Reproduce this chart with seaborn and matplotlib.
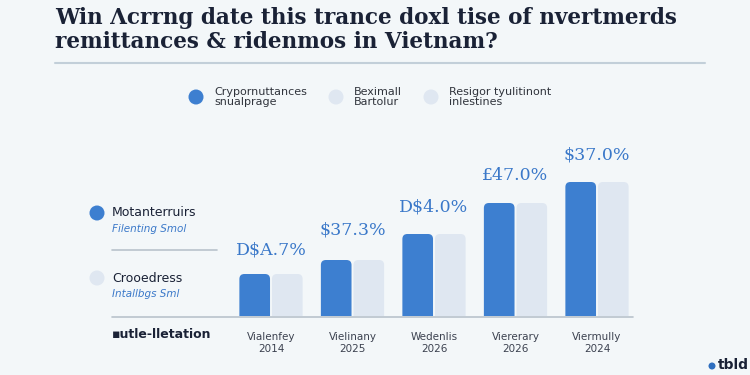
import matplotlib
matplotlib.use("Agg")
import matplotlib.pyplot as plt
import seaborn as sns
import pandas as pd
from matplotlib.patches import FancyBboxPatch, Circle

# ---- data ----
categories = ["Vialenfey\n2014", "Vielinany\n2025", "Wedenlis\n2026", "Viererary\n2026", "Viermully\n2024"]
series_names = ["Crypornuttances snualprage", "Beximall Bartolur"]
values_a = [21, 28, 41, 56.5, 67]
values_b = [21, 28, 41, 56.5, 67]
bar_labels = ["D$A.7%", "$37.3%", "D$4.0%", "£47.0%", "$37.0%"]
title_text = "Win Λcrrng date this trance doxl tise of nvertmerds\nremittances & ridenmos in Vietnam?"
legend_top = [("Crypornuttances\nsnualprage", "#3d7fd0"),
              ("Beximall\nBartolur", "#dfe7f1"),
              ("Resigor tyulitinont\ninlestines", "#dfe7f1")]
side_items = [("Motanterruirs", "Filenting Smol", "#3d7fd0"),
              ("Crooedress", "Intallbgs Sml", "#dfe7f1")]
side_footer = "▪utle-lletation"
logo_text = "tbld"

BLUE = "#3d7fd0"
LIGHT = "#dfe7f1"
BG = "#f3f7f9"
NAVY = "#1a2236"

df = pd.DataFrame({
    "cat": categories * 2,
    "series": [series_names[0]] * 5 + [series_names[1]] * 5,
    "value": values_a + values_b,
})

sns.set_theme(style="white")
plt.rcParams["font.family"] = ["DejaVu Sans"]

W, H = 750, 375
fig = plt.figure(figsize=(7.5, 3.75), dpi=100)
fig.patch.set_facecolor(BG)

# bar axes positioned in pixels
left, bottom, width, height = 230.25, 375 - 316, 407.5, 200
ax = fig.add_axes([left / W, bottom / H, width / W, height / H])
ax.set_facecolor("none")
sns.barplot(data=df, x="cat", y="value", hue="series", order=categories,
            hue_order=series_names, palette=[BLUE, LIGHT], width=0.8, gap=0.06,
            legend=False, ax=ax, saturation=1)
ax.set_xlim(-0.5, 4.5)
ax.set_ylim(0, 100)
ax.axis("off")

# round the bar tops
px_x = 5 / width
aspect = (100 / height) / px_x
old = list(ax.patches)
for p in old:
    x, y = p.get_x(), p.get_y()
    w, h = p.get_width(), p.get_height()
    fc = p.get_facecolor()
    p.remove()
    r = 5 * px_x
    fb = FancyBboxPatch((x, y - 10), w, h + 10,
                        boxstyle=f"round,pad=0,rounding_size={r}",
                        mutation_aspect=aspect, facecolor=fc, edgecolor="none",
                        clip_on=True)
    ax.add_patch(fb)

# value labels above the groups
offs = [24, 30, 27, 27, 27]
for i, (lab, v) in enumerate(zip(bar_labels, values_a)):
    ax.annotate(lab, (i, v), xytext=(0, offs[i] * 0.72), textcoords="offset points",
                ha="center", va="center", fontsize=12.5, color="#3a78c9",
                family="DejaVu Serif")

# category labels
for i, c in enumerate(categories):
    ax.text(i, -8, c, ha="center", va="top", fontsize=7.5, color="#3c4250",
            linespacing=1.25)

# overlay axes in pixel coords
ov = fig.add_axes([0, 0, 1, 1])
ov.set_xlim(0, W)
ov.set_ylim(H, 0)
ov.axis("off")
ov.set_facecolor("none")

ov.text(55, 7, title_text, ha="left", va="top", fontsize=15.5, color=NAVY,
        family="DejaVu Serif", fontweight="bold", linespacing=1.12)
ov.plot([55, 705], [63, 63], color="#c2cfd9", lw=1.5)

# top legend
xs = [196, 336, 431]
for (lab, col), x in zip(legend_top, xs):
    ov.add_patch(Circle((x, 97), 7.5, facecolor=col, edgecolor="none"))
    ov.text(x + 18, 97, lab, ha="left", va="center", fontsize=8, color="#30343c",
            linespacing=1.0)

# side legend
ys = [213, 278]
for (t1, t2, col), y in zip(side_items, ys):
    ov.add_patch(Circle((97, y), 7.5, facecolor=col, edgecolor="none"))
    ov.text(112, y, t1, ha="left", va="center", fontsize=9, color=NAVY)
    ov.text(112, y + 16, t2, ha="left", va="center", fontsize=7.5, color="#3a78c9",
            style="italic")
ov.plot([112, 217], [250, 250], color="#b9c3cc", lw=1.2)
ov.plot([112, 633], [316.5, 316.5], color="#b9c3cc", lw=1.2)
ov.text(112, 334, side_footer, ha="left", va="center", fontsize=9, color=NAVY,
        fontweight="bold")

# logo fragment
ov.add_patch(Circle((712, 366), 3.5, facecolor="#2f6fbf", edgecolor="none"))
ov.text(718, 372, logo_text, ha="left", va="bottom", fontsize=10, color=NAVY,
        fontweight="bold")

fig.savefig("out.png", dpi=100, facecolor=BG)
